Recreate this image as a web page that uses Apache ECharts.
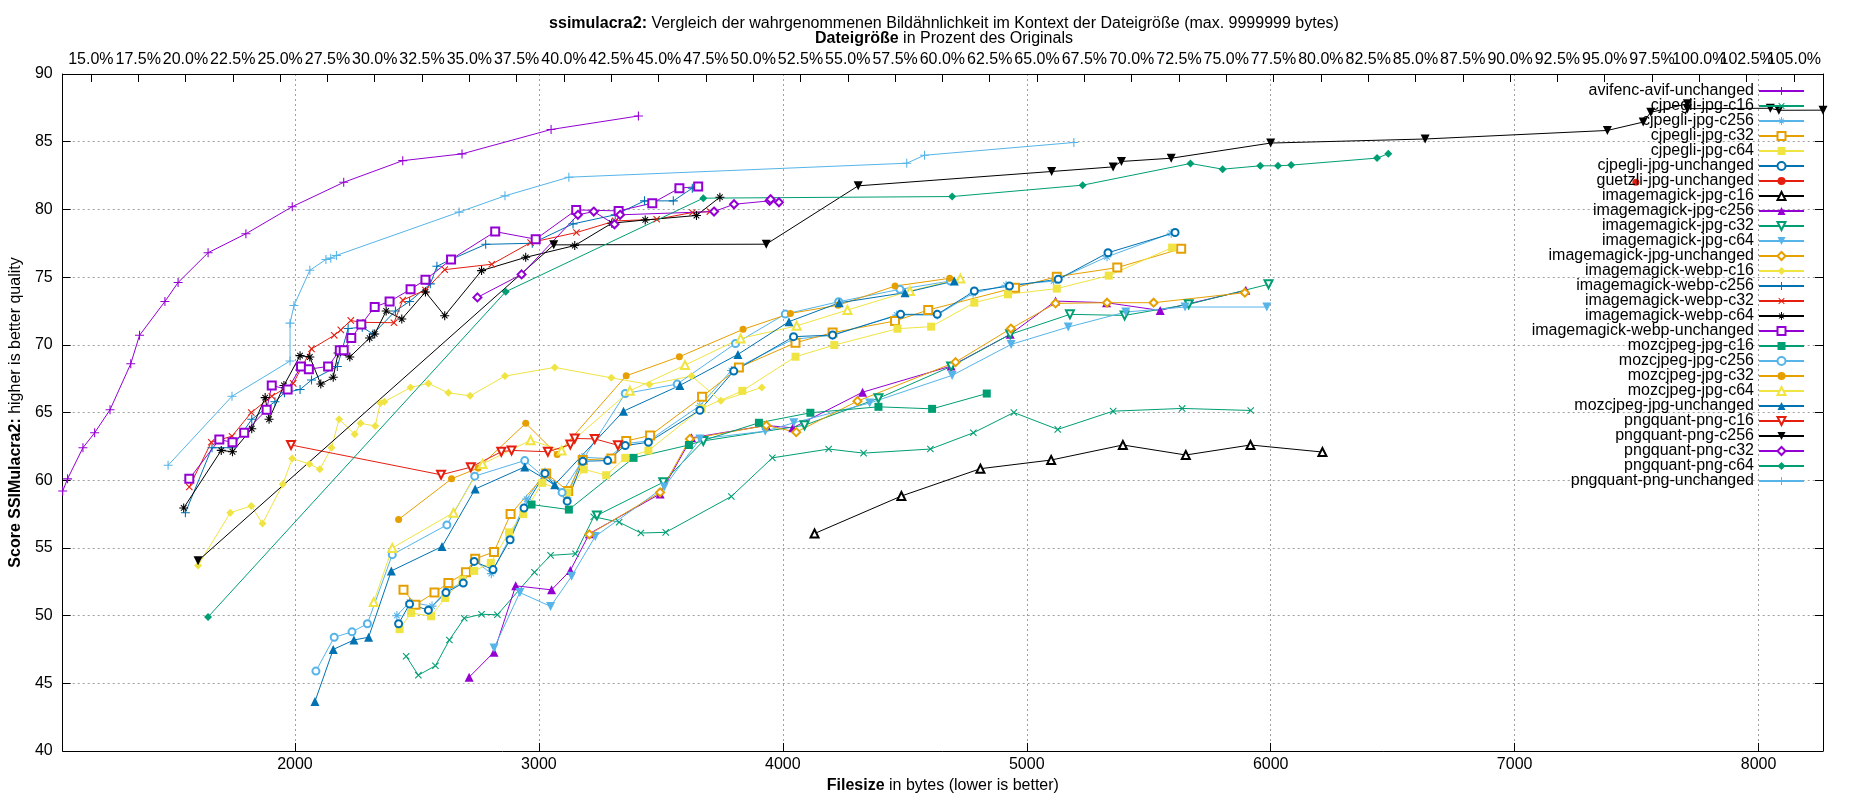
<!DOCTYPE html>
<html>
<head>
<meta charset="utf-8">
<title>ssimulacra2</title>
<script src="https://cdn.jsdelivr.net/npm/echarts@6/dist/echarts.min.js"></script>
<style>
    html, body { margin: 0; padding: 0; background: #fff; }
    #chart { width: 1850px; height: 800px; }
</style>
</head>
<body>
<div id="chart"></div>
<script>
// [filesize in bytes, ssimulacra2 score]
const avifencAvifUnchanged = [[1048,59.2],[1068,60.1],[1131,62.4],[1179,63.5],[1242,65.2],[1327,68.6],[1363,70.7],[1467,73.2],[1521,74.6],[1644,76.8],[1799,78.2],[1989,80.2],[2200,82.0],[2442,83.6],[2685,84.1],[3050,85.9],[3408,86.9]];
const cjpegliJpgC16 = [[2456,47.0],[2506,45.6],[2576,46.3],[2633,48.2],[2694,49.8],[2765,50.1],[2830,50.06],[2982,53.2],[3048,54.45],[3150,54.57],[3225,57.3],[3329,56.9],[3418,56.1],[3520,56.15],[3789,58.8],[3957,61.65],[4188,62.3],[4331,62.0],[4605,62.3],[4781,63.5],[4947,65.0],[5127,63.75],[5354,65.1],[5637,65.3],[5918,65.15]];
const cjpegliJpgC256 = [[2418,50.0],[2470,51.0],[2562,50.7],[2619,51.8],[2690,52.5],[2735,54.1],[2805,53.1],[2882,55.8],[2950,58.6],[3025,60.6],[3116,58.7],[3177,61.7],[3282,61.6],[3354,62.7],[3449,62.9],[3660,65.5],[3789,68.1],[4040,70.4],[4204,70.7],[4467,72.2],[4633,72.2],[4780,73.8],[4915,74.4],[5110,74.7],[5329,76.5],[5592,78.24]];
const cjpegliJpgC32 = [[2445,51.9],[2494,50.8],[2572,51.7],[2629,52.4],[2701,53.2],[2739,54.2],[2816,54.7],[2884,57.5],[3030,60.5],[3120,59.2],[3180,61.5],[3297,61.6],[3358,62.9],[3456,63.3],[3669,66.16],[3820,68.33],[4052,70.15],[4204,70.9],[4460,71.76],[4596,72.57],[4952,74.22],[5123,75.03],[5371,75.7],[5633,77.1]];
const cjpegliJpgC64 = [[2429,49.0],[2476,50.2],[2558,49.95],[2616,51.3],[2687,52.65],[2735,53.3],[2803,53.9],[2878,56.15],[2936,57.5],[3014,59.8],[3116,59.1],[3184,60.8],[3276,60.37],[3354,61.65],[3449,62.19],[3667,65.3],[3834,66.6],[4052,69.12],[4211,69.98],[4470,71.19],[4608,71.34],[4785,73.11],[4923,73.73],[5123,74.15],[5336,75.11],[5596,77.18]];
const cjpegliJpgUnchanged = [[2425,49.4],[2470,50.85],[2547,50.4],[2619,51.7],[2690,52.4],[2735,54.0],[2812,53.4],[2882,55.6],[2939,57.95],[3025,60.5],[3116,58.45],[3180,61.4],[3282,61.45],[3354,62.56],[3449,62.8],[3660,65.17],[3799,68.06],[4044,70.6],[4204,70.72],[4483,72.25],[4633,72.25],[4785,73.97],[4929,74.34],[5129,74.84],[5333,76.8],[5608,78.29]];
const guetzliJpgUnchanged = [[7497,82.0]];
const imagemagickJpgC16 = [[4130,56.06],[4486,58.83],[4810,60.85],[5100,61.49],[5394,62.6],[5652,61.86],[5917,62.6],[6212,62.08]];
const imagemagickJpgC256 = [[2714,45.45],[2816,47.3],[2905,52.2],[3052,51.9],[3129,53.34],[3207,56.05],[3497,58.99],[3626,63.13],[3932,64.04],[4041,63.87],[4327,66.5],[4690,68.43],[4932,70.77],[5118,73.23],[5327,73.11],[5547,72.54],[5898,74.02]];
const imagemagickJpgC32 = [[3238,57.4],[3510,59.85],[3674,62.9],[4089,64.06],[4392,66.05],[4690,68.4],[4932,70.77],[5177,72.25],[5401,72.17],[5664,72.99],[5991,74.47]];
const imagemagickJpgC64 = [[2816,47.6],[2922,51.7],[3048,50.68],[3134,52.9],[3231,55.85],[3514,59.5],[3660,63.05],[3928,63.62],[4045,64.24],[4356,65.7],[4694,67.74],[4936,70.03],[5170,71.31],[5406,72.42],[5649,72.79],[5984,72.79]];
const imagemagickJpgUnchanged = [[3207,56.0],[3497,59.1],[3619,63.05],[3932,64.04],[4055,63.55],[4306,65.84],[4708,68.72],[4935,71.2],[5118,73.06],[5329,73.11],[5520,73.11],[5894,73.85]];
const imagemagickWebpC16 = [[1603,53.7],[1735,57.6],[1821,58.1],[1867,56.8],[1950,59.7],[1989,61.6],[2059,61.2],[2102,60.8],[2150,62.4],[2181,64.5],[2245,63.4],[2269,64.2],[2329,64.0],[2350,65.7],[2367,65.8],[2474,66.85],[2547,67.15],[2629,66.45],[2718,66.23],[2861,67.69],[3065,68.33],[3297,67.56],[3453,67.07],[3626,67.69],[3746,65.86],[3914,66.85]];
const imagemagickWebpC256 = [[1551,57.6],[1660,62.4],[1742,62.4],[1823,64.5],[1918,65.8],[1957,66.45],[2021,66.7],[2068,67.4],[2174,68.4],[2218,71.2],[2276,71.3],[2320,70.8],[2412,72.5],[2470,73.2],[2555,74.5],[2582,75.8],[2640,76.3],[2782,77.42],[2973,77.5],[3140,78.93],[3313,79.6],[3433,80.63],[3551,80.63],[3629,81.57]];
const imagemagickWebpC32 = [[1567,59.5],[1657,62.8],[1742,63.25],[1821,65.0],[1905,66.2],[1993,67.15],[2068,69.7],[2161,70.7],[2188,71.1],[2229,71.8],[2268,71.66],[2406,71.63],[2442,73.3],[2535,74.05],[2614,75.55],[2807,75.95],[2966,77.55],[3154,78.29],[3313,79.15],[3483,79.27],[3629,79.77],[3701,79.84]];
const imagemagickWebpC64 = [[1544,57.95],[1698,62.2],[1744,62.1],[1823,63.8],[1878,66.1],[1894,64.5],[1955,67.0],[2021,69.2],[2061,69.1],[2106,67.1],[2157,67.6],[2177,69.4],[2225,69.1],[2306,70.5],[2327,70.8],[2374,72.5],[2438,71.9],[2535,73.9],[2614,72.15],[2765,75.48],[2946,76.46],[3147,77.33],[3299,78.98],[3436,79.22],[3646,79.55],[3742,80.9]];
const imagemagickWebpUnchanged = [[1567,60.1],[1690,63.0],[1744,62.8],[1792,63.5],[1884,65.2],[1905,67.0],[1970,66.7],[2025,68.4],[2057,68.2],[2136,68.4],[2184,69.6],[2200,69.6],[2231,70.5],[2272,71.5],[2327,72.8],[2388,73.2],[2474,74.1],[2535,74.8],[2640,76.3],[2821,78.36],[2987,77.8],[3153,79.96],[3327,79.89],[3465,80.46],[3576,81.57],[3653,81.69]];
const mozcjpegJpgC16 = [[2970,58.2],[3123,57.83],[3388,61.65],[3615,62.6],[3902,64.24],[4113,64.98],[4392,65.42],[4612,65.27],[4836,66.4]];
const mozcjpegJpgC256 = [[2086,45.9],[2161,48.4],[2234,48.8],[2297,49.4],[2399,54.5],[2623,56.7],[2737,60.3],[2942,61.45],[3095,59.1],[3354,66.4],[3567,67.1],[3806,70.1],[4010,72.27],[4229,73.18],[4480,74.1],[4687,74.71]];
const mozcjpegJpgC32 = [[2425,57.1],[2642,60.1],[2751,60.9],[2946,64.2],[3075,61.9],[3358,67.71],[3576,69.12],[3837,71.14],[4031,72.32],[4227,72.92],[4460,74.34],[4684,74.91]];
const mozcjpegJpgC64 = [[2323,51.0],[2399,55.0],[2650,57.6],[2769,61.2],[2966,62.95],[3093,62.2],[3373,66.6],[3599,68.5],[3827,70.47],[4057,71.4],[4265,72.57],[4521,73.97],[4728,74.89]];
const mozcjpegJpgUnchanged = [[2082,43.65],[2157,47.5],[2242,48.2],[2302,48.4],[2395,53.3],[2603,55.1],[2739,59.35],[2942,60.98],[3065,59.67],[3347,65.1],[3578,67.0],[3816,69.29],[4025,71.71],[4231,73.1],[4501,73.85],[4703,74.71]];
const pngquantPngC16 = [[1984,62.6],[2599,60.4],[2721,60.96],[2846,62.1],[2888,62.2],[3037,62.1],[3129,62.63],[3147,63.08],[3229,63.05],[3324,62.58]];
const pngquantPngC256 = [[1603,54.05],[3061,77.38],[3932,77.43],[4309,81.74],[5102,82.8],[5354,83.14],[5388,83.54],[5592,83.78],[6000,84.9],[6633,85.2],[7380,85.83],[7527,86.45],[7558,87.17],[7708,87.8],[7708,87.44],[8048,87.47],[8083,87.32],[8264,87.33]];
const pngquantPngC32 = [[2748,73.5],[2929,75.2],[3160,79.6],[3225,79.84],[3310,78.9],[3333,79.6],[3718,79.84],[3800,80.38],[3946,80.63],[3950,80.75],[3984,80.53]];
const pngquantPngC64 = [[1644,49.9],[2864,73.92],[3674,80.83],[4694,80.95],[5229,81.79],[5671,83.39],[5803,82.97],[5957,83.22],[6030,83.22],[6084,83.27],[6436,83.79],[6482,84.11]];
const pngquantPngUnchanged = [[1480,61.1],[1742,66.2],[1980,68.8],[1980,71.6],[1996,72.9],[2061,75.5],[2127,76.3],[2147,76.4],[2170,76.6],[2673,79.8],[2861,81.0],[3123,82.38],[4508,83.41],[4581,84.0],[5193,84.94]];

const seriesNames = [
    'avifenc-avif-unchanged', 'cjpegli-jpg-c16', 'cjpegli-jpg-c256', 'cjpegli-jpg-c32', 'cjpegli-jpg-c64',
    'cjpegli-jpg-unchanged', 'guetzli-jpg-unchanged', 'imagemagick-jpg-c16', 'imagemagick-jpg-c256',
    'imagemagick-jpg-c32', 'imagemagick-jpg-c64', 'imagemagick-jpg-unchanged', 'imagemagick-webp-c16',
    'imagemagick-webp-c256', 'imagemagick-webp-c32', 'imagemagick-webp-c64', 'imagemagick-webp-unchanged',
    'mozcjpeg-jpg-c16', 'mozcjpeg-jpg-c256', 'mozcjpeg-jpg-c32', 'mozcjpeg-jpg-c64', 'mozcjpeg-jpg-unchanged',
    'pngquant-png-c16', 'pngquant-png-c256', 'pngquant-png-c32', 'pngquant-png-c64', 'pngquant-png-unchanged'
];
const seriesValues = [
    avifencAvifUnchanged, cjpegliJpgC16, cjpegliJpgC256, cjpegliJpgC32, cjpegliJpgC64,
    cjpegliJpgUnchanged, guetzliJpgUnchanged, imagemagickJpgC16, imagemagickJpgC256,
    imagemagickJpgC32, imagemagickJpgC64, imagemagickJpgUnchanged, imagemagickWebpC16,
    imagemagickWebpC256, imagemagickWebpC32, imagemagickWebpC64, imagemagickWebpUnchanged,
    mozcjpegJpgC16, mozcjpegJpgC256, mozcjpegJpgC32, mozcjpegJpgC64, mozcjpegJpgUnchanged,
    pngquantPngC16, pngquantPngC256, pngquantPngC32, pngquantPngC64, pngquantPngUnchanged
];

// top axis: size relative to the original file
const ORIGINAL_SIZE = 7757;
const percentTicks = [15, 17.5, 20, 22.5, 25, 27.5, 30, 32.5, 35, 37.5, 40, 42.5, 45, 47.5, 50, 52.5, 55, 57.5, 60,
    62.5, 65, 67.5, 70, 72.5, 75, 77.5, 80, 82.5, 85, 87.5, 90, 92.5, 95, 97.5, 100, 102.5, 105];

const palette = ['#9400d3', '#009e73', '#56b4e9', '#e69f00', '#f0e442', '#0072b2', '#e51e10', '#000000'];

const PLUS = 'path://M4.4,0H5.6V4.4H10V5.6H5.6V10H4.4V5.6H0V4.4H4.4Z';
const STAR = 'path://M4.4,0H5.6V4.4H10V5.6H5.6V10H4.4V5.6H0V4.4H4.4Z' +
    'M1.5,2.3L2.3,1.5L8.5,7.7L7.7,8.5Z M7.7,1.5L8.5,2.3L2.3,8.5L1.5,7.7Z';

// gnuplot point types 1..13
const pointTypes = [
    { symbol: PLUS, size: 9, rotate: 0 },
    { symbol: PLUS, size: 9, rotate: 45 },
    { symbol: STAR, size: 9, rotate: 0 },
    { symbol: 'emptyRect', size: 8, rotate: 0 },
    { symbol: 'rect', size: 8, rotate: 0 },
    { symbol: 'emptyCircle', size: 7, rotate: 0 },
    { symbol: 'circle', size: 7, rotate: 0 },
    { symbol: 'emptyTriangle', size: 8, rotate: 0 },
    { symbol: 'triangle', size: 9, rotate: 0 },
    { symbol: 'emptyTriangle', size: 8, rotate: 180 },
    { symbol: 'triangle', size: 9, rotate: 180 },
    { symbol: 'emptyDiamond', size: 8, rotate: 0 },
    { symbol: 'diamond', size: 8, rotate: 0 }
];

const FONT = '"Liberation Sans", Arial, sans-serif';

let allX = [];
seriesValues.forEach(function (s) { s.forEach(function (p) { allX.push(p[0]); }); });
const xMin = Math.min.apply(null, allX);
const xMax = Math.max.apply(null, allX);

const series = seriesNames.map(function (name, i) {
    const color = palette[i % palette.length];
    const pt = pointTypes[i % pointTypes.length];
    const hollow = pt.symbol.indexOf('empty') === 0;
    return {
        name: name,
        type: 'line',
        data: seriesValues[i],
        symbol: pt.symbol,
        symbolSize: pt.size,
        symbolRotate: pt.rotate,
        showAllSymbol: true,
        lineStyle: { color: color, width: 1 },
        itemStyle: hollow ? { color: color, borderColor: color, borderWidth: 1 } : { color: color, borderWidth: 0 },
        emphasis: { disabled: true },
        animation: false
    };
});

const grid = { left: 55, right: 27, top: 74, bottom: 49 };
const dotted = { color: '#a0a0a0', width: 1, type: [2, 3] };

// the top labels touch each other, so they are spread over two axes to keep all of them
function percentAxis(ticks) {
    return {
        type: 'value',
        position: 'top',
        min: xMin / ORIGINAL_SIZE * 100,
        max: xMax / ORIGINAL_SIZE * 100,
        axisLine: { show: true, onZero: false, lineStyle: { color: '#000', width: 1 } },
        axisTick: { show: true, inside: true, length: 8, customValues: ticks, lineStyle: { color: '#000' } },
        axisLabel: {
            fontFamily: FONT, fontSize: 16, color: '#000', margin: 6,
            customValues: ticks,
            showMinLabel: true, showMaxLabel: true, hideOverlap: false,
            formatter: function (v) { return v.toFixed(1) + '%'; }
        },
        splitLine: { show: false }
    };
}

const chart = echarts.init(document.getElementById('chart'));
chart.setOption({
    backgroundColor: '#fff',
    animation: false,
    textStyle: { fontFamily: FONT },
    title: {
        text: '{b|ssimulacra2:} Vergleich der wahrgenommenen Bildähnlichkeit im Kontext der Dateigröße (max. 9999999 bytes)\n' +
            '{b|Dateigröße} in Prozent des Originals',
        left: 939,
        textAlign: 'center',
        top: 11,
        textStyle: {
            fontFamily: FONT, fontSize: 16, fontWeight: 'normal', color: '#000', lineHeight: 15,
            rich: { b: { fontFamily: FONT, fontSize: 16, fontWeight: 'bold', color: '#000', lineHeight: 15 } }
        }
    },
    legend: {
        orient: 'vertical',
        right: 45,
        top: 83,
        align: 'right',
        itemWidth: 45,
        itemHeight: 10,
        itemGap: -1,
        selectedMode: false,
        padding: 0,
        textStyle: { fontFamily: FONT, fontSize: 16, color: '#000', lineHeight: 15 },
        data: seriesNames
    },
    grid: grid,
    xAxis: [{
        type: 'value',
        position: 'bottom',
        min: xMin,
        max: xMax,
        splitNumber: 7,
        name: '{b|Filesize} in bytes (lower is better)',
        nameLocation: 'middle',
        nameGap: 27,
        nameTextStyle: {
            fontFamily: FONT, fontSize: 16, color: '#000',
            rich: { b: { fontFamily: FONT, fontSize: 16, fontWeight: 'bold', color: '#000' } }
        },
        axisLine: { show: true, onZero: false, lineStyle: { color: '#000', width: 1 } },
        axisTick: { show: true, inside: true, length: 8, lineStyle: { color: '#000' } },
        axisLabel: {
            fontFamily: FONT, fontSize: 16, color: '#000', margin: 6,
            showMinLabel: false, showMaxLabel: false,
            formatter: function (v) { return String(v); }
        },
        splitLine: { show: true, showMinLine: false, showMaxLine: false, lineStyle: dotted }
    },
        percentAxis(percentTicks.filter(function (v, i) { return i % 2 === 0; })),
        percentAxis(percentTicks.filter(function (v, i) { return i % 2 === 1; }))
    ],
    yAxis: [{
        type: 'value',
        position: 'left',
        min: 40,
        max: 90,
        interval: 5,
        name: '{b|Score SSIMulacra2:} higher is better quality',
        nameLocation: 'middle',
        nameRotate: 90,
        nameGap: 37,
        nameTextStyle: {
            fontFamily: FONT, fontSize: 16, color: '#000',
            rich: { b: { fontFamily: FONT, fontSize: 16, fontWeight: 'bold', color: '#000' } }
        },
        axisLine: { show: true, onZero: false, lineStyle: { color: '#000', width: 1 } },
        axisTick: { show: true, inside: true, length: 8, lineStyle: { color: '#000' } },
        axisLabel: { fontFamily: FONT, fontSize: 16, color: '#000', margin: 10 },
        splitLine: { show: true, showMinLine: false, showMaxLine: false, lineStyle: dotted }
    }, {
        type: 'value',
        position: 'right',
        min: 40,
        max: 90,
        interval: 5,
        axisLine: { show: true, onZero: false, lineStyle: { color: '#000', width: 1 } },
        axisTick: { show: true, inside: true, length: 8, lineStyle: { color: '#000' } },
        axisLabel: { show: false },
        splitLine: { show: false }
    }],
    series: series
});
</script>
</body>
</html>
